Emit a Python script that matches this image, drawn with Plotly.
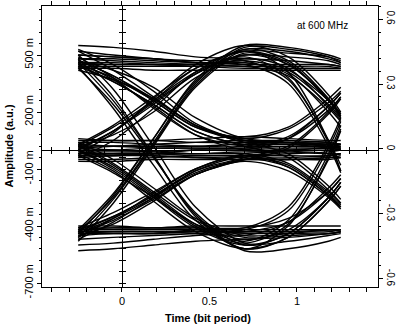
import plotly.graph_objects as go

# ---- data ----
t_key = [-0.25, -0.05, 0.18, 0.42, 0.7, 0.95, 1.18, 1.25]

# traces starting on the top rail
from_top = [
    [0.46, 0.45, 0.45, 0.44, 0.43, 0.43, 0.43, 0.43],
    [0.50, 0.49, 0.48, 0.46, 0.45, 0.45, 0.45, 0.44],
    [0.44, 0.44, 0.44, 0.44, 0.44, 0.39, 0.22, 0.15],
    [0.48, 0.48, 0.47, 0.46, 0.46, 0.41, 0.24, 0.17],
    [0.45, 0.45, 0.45, 0.45, 0.45, 0.35, 0.02, -0.12],
    [0.47, 0.39, 0.27, 0.13, 0.06, 0.11, 0.25, 0.31],
    [0.44, 0.36, 0.24, 0.10, 0.03, 0.03, 0.02, 0.01],
    [0.52, 0.42, 0.28, 0.13, 0.04, 0.03, 0.01, 0.00],
    [0.45, 0.36, 0.24, 0.10, 0.02, -0.04, -0.21, -0.28],
    [0.46, 0.26, -0.03, -0.34, -0.52, -0.40, -0.04, 0.11],
    [0.43, 0.24, -0.04, -0.33, -0.50, -0.44, -0.25, -0.17],
    [0.48, 0.28, -0.03, -0.35, -0.53, -0.52, -0.48, -0.46],
    [0.55, 0.54, 0.52, 0.49, 0.48, 0.47, 0.45, 0.44],
    [0.46, 0.37, 0.23, 0.08, 0.00, 0.00, 0.01, 0.01],
    [0.43, 0.43, 0.42, 0.42, 0.42, 0.42, 0.42, 0.42],
    [0.48, 0.47, 0.46, 0.45, 0.44, 0.44, 0.44, 0.43],
    [0.52, 0.50, 0.48, 0.46, 0.46, 0.40, 0.20, 0.12],
    [0.46, 0.46, 0.45, 0.45, 0.47, 0.42, 0.26, 0.19],
    [0.50, 0.49, 0.48, 0.47, 0.47, 0.37, 0.05, -0.08],
    [0.49, 0.38, 0.22, 0.08, 0.02, 0.02, 0.02, 0.02],
    [0.42, 0.37, 0.27, 0.13, 0.05, 0.04, 0.03, 0.03],
    [0.45, 0.38, 0.26, 0.12, 0.07, 0.12, 0.27, 0.33],
    [0.47, 0.39, 0.26, 0.12, 0.04, -0.02, -0.19, -0.26],
    [0.50, 0.32, 0.02, -0.30, -0.49, -0.48, -0.45, -0.44],
    [0.44, 0.22, -0.08, -0.37, -0.52, -0.46, -0.27, -0.19],
    [0.47, 0.42, 0.33, 0.17, 0.06, 0.05, 0.04, 0.03],
    [0.53, 0.45, 0.31, 0.14, 0.05, 0.04, 0.02, 0.01],
]

# traces starting on the middle rail
from_mid = [
    [0.02, 0.12, 0.26, 0.41, 0.50, 0.49, 0.47, 0.45],
    [-0.02, 0.09, 0.27, 0.45, 0.55, 0.49, 0.29, 0.20],
    [0.03, 0.13, 0.28, 0.43, 0.52, 0.46, 0.26, 0.18],
    [0.00, 0.10, 0.25, 0.40, 0.49, 0.38, 0.04, -0.11],
    [0.04, 0.04, 0.03, 0.02, 0.02, 0.07, 0.23, 0.30],
    [-0.03, -0.02, -0.02, 0.00, 0.00, 0.06, 0.23, 0.30],
    [0.00, 0.00, 0.01, 0.01, 0.01, 0.01, 0.01, 0.00],
    [-0.05, -0.05, -0.04, -0.03, -0.03, -0.03, -0.03, -0.02],
    [0.05, 0.05, 0.05, 0.04, 0.04, 0.04, 0.04, 0.03],
    [0.01, 0.00, -0.01, -0.02, -0.02, -0.07, -0.22, -0.28],
    [-0.02, -0.02, -0.03, -0.04, -0.04, -0.09, -0.24, -0.30],
    [0.02, -0.08, -0.23, -0.39, -0.48, -0.37, -0.02, 0.13],
    [0.00, -0.10, -0.25, -0.41, -0.50, -0.44, -0.25, -0.17],
    [-0.03, -0.12, -0.25, -0.39, -0.47, -0.42, -0.25, -0.17],
    [0.03, -0.07, -0.22, -0.37, -0.46, -0.45, -0.44, -0.43],
    [0.00, 0.10, 0.26, 0.43, 0.52, 0.51, 0.49, 0.47],
    [-0.01, -0.01, -0.01, 0.00, 0.00, 0.00, 0.01, 0.01],
    [0.01, 0.10, 0.24, 0.40, 0.50, 0.45, 0.27, 0.19],
    [-0.04, 0.05, 0.22, 0.41, 0.53, 0.52, 0.48, 0.46],
    [0.02, 0.08, 0.20, 0.38, 0.48, 0.43, 0.23, 0.16],
    [0.03, 0.02, 0.02, 0.02, 0.03, 0.03, 0.03, 0.03],
    [-0.03, -0.03, -0.02, -0.02, -0.01, -0.01, -0.02, -0.02],
    [0.06, 0.05, 0.05, 0.06, 0.07, 0.06, 0.05, 0.05],
    [-0.06, -0.06, -0.05, -0.05, -0.05, -0.05, -0.04, -0.04],
    [0.02, 0.02, 0.01, 0.01, 0.01, 0.06, 0.21, 0.28],
    [-0.01, -0.02, -0.02, -0.03, -0.03, -0.08, -0.23, -0.29],
    [0.04, -0.05, -0.20, -0.36, -0.45, -0.44, -0.42, -0.42],
    [-0.02, -0.11, -0.27, -0.43, -0.52, -0.46, -0.27, -0.19],
    [0.01, 0.02, 0.03, 0.04, 0.05, 0.04, 0.03, 0.02],
    [-0.04, -0.03, -0.03, -0.04, -0.05, -0.05, -0.05, -0.04],
    [0.00, -0.09, -0.24, -0.40, -0.49, -0.39, -0.05, 0.10],
]

# traces starting on the bottom rail
from_bottom = [
    [-0.44, -0.24, 0.06, 0.37, 0.55, 0.54, 0.50, 0.48],
    [-0.42, -0.23, 0.06, 0.36, 0.53, 0.47, 0.27, 0.18],
    [-0.46, -0.26, 0.03, 0.34, 0.52, 0.41, 0.05, -0.11],
    [-0.43, -0.35, -0.24, -0.11, -0.04, 0.02, 0.20, 0.28],
    [-0.42, -0.35, -0.24, -0.12, -0.05, -0.04, -0.03, -0.02],
    [-0.47, -0.38, -0.25, -0.11, -0.03, -0.02, -0.01, 0.00],
    [-0.44, -0.36, -0.25, -0.13, -0.06, -0.11, -0.25, -0.31],
    [-0.42, -0.42, -0.42, -0.42, -0.42, -0.32, 0.01, 0.15],
    [-0.44, -0.44, -0.44, -0.43, -0.43, -0.38, -0.22, -0.15],
    [-0.40, -0.40, -0.41, -0.41, -0.41, -0.36, -0.22, -0.15],
    [-0.45, -0.44, -0.44, -0.42, -0.42, -0.42, -0.42, -0.42],
    [-0.50, -0.49, -0.47, -0.45, -0.44, -0.44, -0.44, -0.43],
    [-0.53, -0.52, -0.50, -0.48, -0.47, -0.46, -0.44, -0.43],
    [-0.41, -0.33, -0.22, -0.10, -0.02, -0.01, 0.00, 0.00],
    [-0.45, -0.39, -0.27, -0.13, -0.05, -0.05, -0.04, -0.03],
    [-0.43, -0.43, -0.43, -0.43, -0.43, -0.43, -0.42, -0.42],
    [-0.47, -0.46, -0.45, -0.44, -0.43, -0.43, -0.43, -0.42],
    [-0.41, -0.41, -0.41, -0.40, -0.40, -0.40, -0.40, -0.40],
    [-0.44, -0.43, -0.43, -0.44, -0.45, -0.38, -0.20, -0.13],
    [-0.43, -0.25, 0.04, 0.35, 0.54, 0.53, 0.49, 0.46],
    [-0.48, -0.28, 0.02, 0.33, 0.51, 0.45, 0.26, 0.17],
    [-0.44, -0.37, -0.26, -0.13, -0.05, 0.01, 0.19, 0.27],
    [-0.46, -0.36, -0.23, -0.10, -0.03, -0.09, -0.24, -0.30],
    [-0.42, -0.41, -0.41, -0.41, -0.41, -0.30, 0.03, 0.17],
]

x_ticks = [0, 0.5, 1]
x_labels = ["0", "0.5", "1"]
left_ticks = [0.5, 0.2, -0.1, -0.4, -0.7]
left_labels = ["500 m", "200 m", "-100 m", "-400 m", "-700 m"]
right_ticks = [0.6, 0.3, 0, -0.3, -0.6]
right_labels = ["0.6", "0.3", "0", "-0.3", "-0.6"]

X_RANGE = [-0.457, 1.463]
Y_RANGE = [-0.721, 0.758]
Y2_RANGE = [-0.637, 0.66]

FONT = "Liberation Sans, Arial, sans-serif"

fig = go.Figure()
for group in (from_top, from_mid, from_bottom):
    for ys in group:
        fig.add_trace(go.Scatter(
            x=t_key, y=ys, mode="lines",
            line=dict(color="black", width=1.4, shape="spline", smoothing=0.9),
            showlegend=False, hoverinfo="skip"))

# dummy traces so the extra axes are drawn
fig.add_trace(go.Scatter(x=[None], y=[None], yaxis="y2", showlegend=False, hoverinfo="skip"))
fig.add_trace(go.Scatter(x=[None], y=[None], xaxis="x2", showlegend=False, hoverinfo="skip"))
fig.add_trace(go.Scatter(x=[None], y=[None], xaxis="x3", showlegend=False, hoverinfo="skip"))
fig.add_trace(go.Scatter(x=[None], y=[None], yaxis="y3", showlegend=False, hoverinfo="skip"))
fig.add_trace(go.Scatter(x=[None], y=[None], yaxis="y4", showlegend=False, hoverinfo="skip"))

axis_common = dict(showgrid=False, zeroline=False, showline=True, linecolor="black",
                   linewidth=1, tickcolor="black", automargin=False)

zero_frac_y = (0 - Y_RANGE[0]) / (Y_RANGE[1] - Y_RANGE[0])
zero_frac_x = (0 - X_RANGE[0]) / (X_RANGE[1] - X_RANGE[0])

fig.update_layout(
    width=396, height=332,
    margin=dict(l=42, r=18, t=6, b=45, autoexpand=False),
    paper_bgcolor="white", plot_bgcolor="white",
    font=dict(family=FONT, size=11, color="black"),
    hovermode=False,
    xaxis=dict(range=X_RANGE, tickvals=x_ticks, ticktext=x_labels,
               ticks="outside", ticklen=4, mirror="allticks",
               minor=dict(dtick=0.1, tick0=0, ticks="outside", ticklen=2, tickcolor="black"),
               tickfont=dict(size=11), **axis_common),
    yaxis=dict(range=Y_RANGE, tickvals=left_ticks, ticktext=left_labels,
               ticks="outside", ticklen=4, tickangle=-90,
               minor=dict(dtick=0.06, tick0=0.5, ticks="outside", ticklen=2, tickcolor="black"),
               tickfont=dict(size=11), **axis_common),
    yaxis2=dict(range=Y2_RANGE, overlaying="y", side="right", anchor="x",
                tickvals=right_ticks, ticktext=right_labels,
                ticks="outside", ticklen=4, tickangle=90,
                minor=dict(dtick=0.06, tick0=0, ticks="outside", ticklen=2, tickcolor="black"),
                tickfont=dict(size=10), **axis_common),
    xaxis2=dict(range=X_RANGE, overlaying="x", anchor="free", position=zero_frac_y,
                side="bottom", showticklabels=False, dtick=0.1, tick0=0,
                ticks="outside", ticklen=3, **axis_common),
    xaxis3=dict(range=X_RANGE, overlaying="x", anchor="free", position=zero_frac_y,
                side="bottom", showticklabels=False, dtick=0.1, tick0=0,
                ticks="inside", ticklen=3, **axis_common),
    yaxis3=dict(range=Y_RANGE, overlaying="y", anchor="free", position=zero_frac_x,
                side="left", showticklabels=False, dtick=0.06, tick0=0.5,
                ticks="outside", ticklen=3, **axis_common),
    yaxis4=dict(range=Y_RANGE, overlaying="y", anchor="free", position=zero_frac_x,
                side="left", showticklabels=False, dtick=0.06, tick0=0.5,
                ticks="inside", ticklen=3, **axis_common),
    annotations=[
        dict(text="<b>Amplitude (a.u.)</b>", xref="paper", yref="paper",
             x=-0.101, y=0.5, textangle=-90, showarrow=False,
             font=dict(size=11, family=FONT), xanchor="center", yanchor="middle"),
        dict(text="<b>Time (bit period)</b>", xref="paper", yref="paper",
             x=0.494, y=-0.110, showarrow=False,
             font=dict(size=11, family=FONT), xanchor="center", yanchor="middle"),
        dict(text="at 600 MHz", xref="paper", yref="paper",
             x=0.836, y=0.932, showarrow=False,
             font=dict(size=10, family=FONT), xanchor="center", yanchor="middle"),
    ],
)

fig.write_html("out.html", config={"displayModeBar": False, "staticPlot": True},
               post_script="document.body.style.margin='0';")
